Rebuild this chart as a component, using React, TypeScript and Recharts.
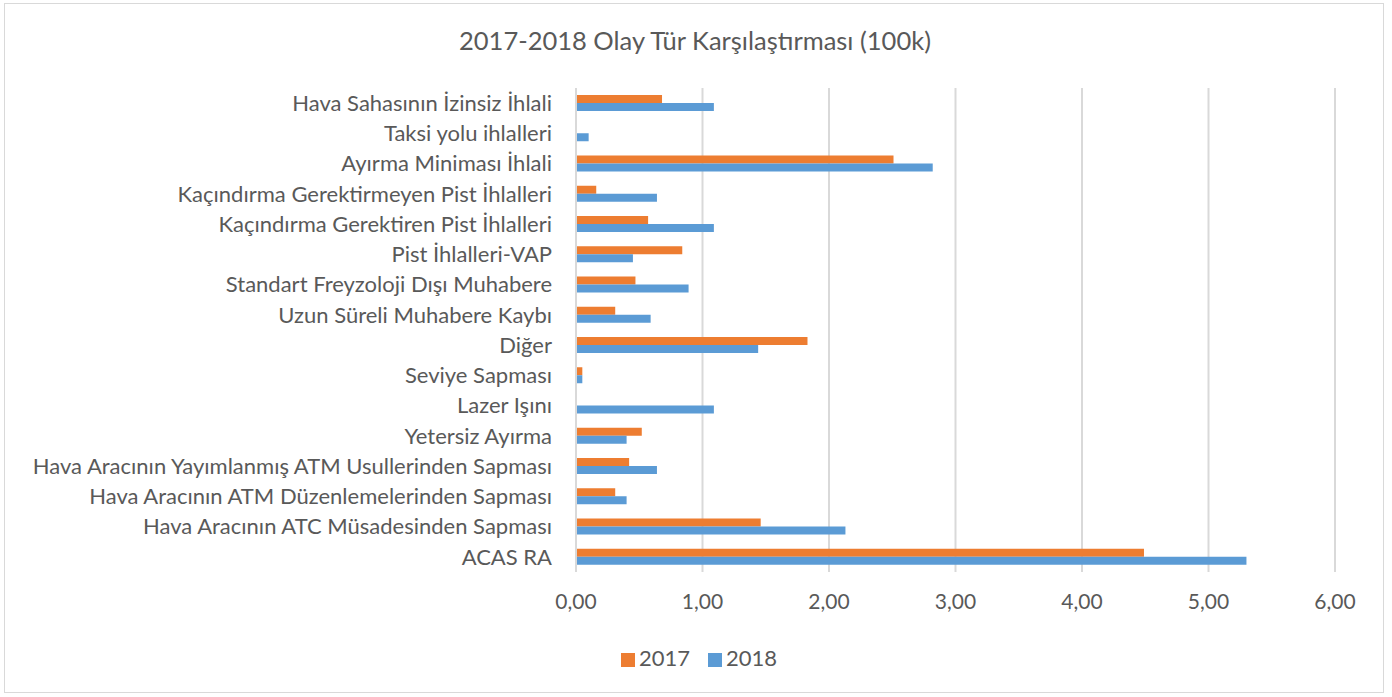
import React from 'react';
import { BarChart, Bar, XAxis, YAxis, CartesianGrid, Legend } from 'recharts';

const categories = [
  'Hava Sahasının İzinsiz İhlali',
  'Taksi yolu ihlalleri',
  'Ayırma Miniması İhlali',
  'Kaçındırma Gerektirmeyen Pist İhlalleri',
  'Kaçındırma Gerektiren Pist İhlalleri',
  'Pist İhlalleri-VAP',
  'Standart Freyzoloji Dışı Muhabere',
  'Uzun Süreli Muhabere Kaybı',
  'Diğer',
  'Seviye Sapması',
  'Lazer Işını',
  'Yetersiz Ayırma',
  'Hava Aracının Yayımlanmış ATM Usullerinden Sapması',
  'Hava Aracının ATM Düzenlemelerinden Sapması',
  'Hava Aracının ATC Müsadesinden Sapması',
  'ACAS RA',
];

const values2017 = [0.68, 0, 2.51, 0.16, 0.57, 0.84, 0.47, 0.31, 1.83, 0.05, 0, 0.52, 0.42, 0.31, 1.46, 4.49];
const values2018 = [1.09, 0.1, 2.82, 0.64, 1.09, 0.45, 0.89, 0.59, 1.44, 0.05, 1.09, 0.4, 0.64, 0.4, 2.13, 5.3];

const xTicks = [0, 1, 2, 3, 4, 5, 6];
const title = '2017-2018 Olay Tür Karşılaştırması (100k)';

const data = categories.map((name, i) => ({ name, y2017: values2017[i], y2018: values2018[i] }));

const FONT = 'Lato, "Open Sans", sans-serif';
const TEXT = '#595959';
const GRID = '#d9d9d9';

export default function App() {
  return (
    <div style={{ position: 'absolute', left: 0, top: 0, width: 1392, height: 697, background: '#fff', fontFamily: FONT }}>
      <div
        style={{
          position: 'absolute',
          left: 4,
          top: 3,
          width: 1380,
          height: 690,
          border: `1px solid ${GRID}`,
          boxSizing: 'border-box',
        }}
      />
      <div
        style={{
          position: 'absolute',
          left: 0,
          width: 1390,
          top: 25,
          textAlign: 'center',
          fontSize: 25.5,
          color: TEXT,
          lineHeight: '30px',
        }}
      >
        {title}
      </div>
      <div style={{ position: 'absolute', left: 0, top: 0 }}>
        <BarChart
          width={1392}
          height={697}
          data={data}
          layout="vertical"
          margin={{ top: 88, right: 57, bottom: 85, left: 0 }}
          barGap={0}
          barSize={8}
        >
          <CartesianGrid horizontal={false} vertical={true} stroke={GRID} strokeWidth={2} />
          <XAxis
            type="number"
            domain={[0, 6]}
            ticks={xTicks}
            axisLine={false}
            tickLine={false}
            tickMargin={16}
            height={40}
            tick={{ fill: TEXT, fontSize: 21, fontFamily: FONT }}
            tickFormatter={(v: number) => v.toFixed(2).replace('.', ',')}
          />
          <YAxis
            type="category"
            dataKey="name"
            width={576}
            interval={0}
            tickLine={false}
            tickSize={0}
            tickMargin={24}
            axisLine={{ stroke: GRID, strokeWidth: 2 }}
            tick={{ fill: TEXT, fontSize: 22, fontFamily: FONT }}
          />
          <Legend
            layout="horizontal"
            verticalAlign="middle"
            align="center"
            iconType="square"
            iconSize={14}
            wrapperStyle={{ top: 644, left: 12, width: 1392, fontFamily: FONT, fontSize: 22 }}
            formatter={(value: string) => <span style={{ color: TEXT, marginRight: 8 }}>{value}</span>}
          />
          <Bar dataKey="y2017" name="2017" fill="#ED7D31" isAnimationActive={false} />
          <Bar dataKey="y2018" name="2018" fill="#5B9BD5" isAnimationActive={false} />
        </BarChart>
      </div>
    </div>
  );
}
